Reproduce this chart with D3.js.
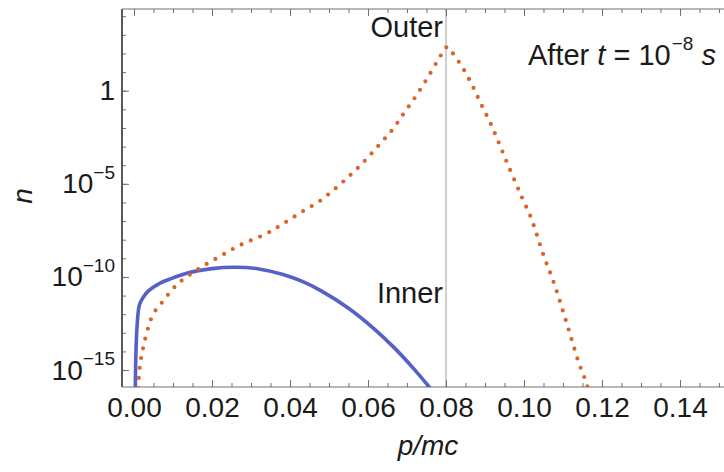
<!DOCTYPE html>
<html><head><meta charset="utf-8">
<script src="https://cdn.jsdelivr.net/npm/d3@7"></script>
<style>
body{margin:0;background:#fff;}
svg{display:block;font-family:"Liberation Sans",Arial,sans-serif;}
</style></head><body>
<svg id="c" width="724" height="472"></svg>
<script>
// Inner distribution (solid blue)
const innerP = [0.0003,0.0005,0.0008,0.0014,0.0025,0.0040,0.0067,0.0100,0.0135,0.0200,0.0260,0.0320,0.0380,0.0430,0.0480,0.0550,0.0615,0.0667,0.0717,0.0765];
const innerN = [3.2e-17,1e-14,2.5e-13,3.2e-12,8.9e-12,2e-11,4.7e-11,8.9e-11,1.6e-10,2.8e-10,3.3e-10,2.7e-10,1.4e-10,5.9e-11,1.8e-11,2.1e-12,1.7e-13,1.6e-14,1.2e-15,7.8e-17];
// Outer distribution (dotted orange)
const outerP = [0.0009,0.0015,0.0024,0.0037,0.0050,0.0065,0.0080,0.0097,0.0114,0.0135,0.0174,0.0221,0.0272,0.0341,0.0384,0.0431,0.0474,0.0517,0.0555,0.0589,0.0628,0.0662,0.0692,0.0722,0.0752,0.0777,0.0790,0.0803,0.0816,0.0842,0.0867,0.0889,0.0914,0.0936,0.0957,0.0983,0.0998,0.1017,0.1051,0.1077,0.1099,0.1120,0.1141,0.1159,0.1170];
const outerN = [3.2e-17,1.6e-15,1.8e-14,2.1e-13,1.1e-12,2.8e-12,7.1e-12,2e-11,4.6e-11,1e-10,3.5e-10,1.3e-9,5.1e-9,2.2e-8,7.6e-8,3.2e-7,1.1e-6,5.8e-6,3e-5,1.5e-4,1.2e-3,7.8e-3,0.062,0.48,4.7,36,100,224,112,18,2,0.21,0.018,1.5e-3,1.3e-4,6.9e-6,1.3e-6,1.7e-7,1.3e-9,4.6e-11,1.7e-12,6.2e-14,2.3e-15,2.3e-16,3.2e-17];
const xMajorTicks = [0,0.02,0.04,0.06,0.08,0.10,0.12,0.14];
const xMinorTicks = [0,0.005,0.01,0.015,0.02,0.025,0.03,0.035,0.04,0.045,0.05,0.055,0.06,0.065,0.07,0.075,0.08,0.085,0.09,0.095,0.1,0.105,0.11,0.115,0.12,0.125,0.13,0.135,0.14,0.145,0.15];
const yMajorExps = [0,-5,-10,-15];
const yMinorExps = [4,3,2,1,0,-1,-2,-3,-4,-5,-6,-7,-8,-9,-10,-11,-12,-13,-14,-15];
const markerP = 0.08;
const labels = {outer:"Outer", inner:"Inner", xTitle:"p/mc", yTitle:"n"};

const svg = d3.select("#c");
const L=122,R=734,T=9,B=387;
const x = d3.scaleLinear().domain([-0.00308,0.15385]).range([L,R]);
const y = d3.scaleLog().domain([Math.pow(10,-15.91), Math.pow(10,4.388)]).range([B,T]);
const axisColor = "#707070";

svg.append("defs").append("clipPath").attr("id","clip")
  .append("rect").attr("x",L).attr("y",T).attr("width",R-L).attr("height",B-T);

// vertical marker line
svg.append("line").attr("x1",x(markerP)).attr("x2",x(markerP)).attr("y1",T).attr("y2",B)
  .attr("stroke","#b4b4b4").attr("stroke-width",1.3);

function styleAxis(g){ g.select(".domain").remove(); g.selectAll(".tick line").attr("stroke",axisColor).attr("stroke-width",1); }

// bottom axis
svg.append("g").attr("transform",`translate(0,${B})`)
  .call(d3.axisBottom(x).tickValues(xMinorTicks).tickSize(-4).tickFormat("")).call(styleAxis);
const gb = svg.append("g").attr("transform",`translate(0,${B})`)
  .call(d3.axisBottom(x).tickValues(xMajorTicks).tickSizeInner(-7).tickSizeOuter(0).tickPadding(10).tickFormat(d3.format(".2f")))
  .call(styleAxis);
gb.selectAll("text").attr("font-size",28).attr("fill","#1a1a1a").attr("font-family","Liberation Sans, Arial, sans-serif");
// top axis
svg.append("g").attr("transform",`translate(0,${T})`)
  .call(d3.axisTop(x).tickValues(xMinorTicks).tickSize(-4).tickFormat("")).call(styleAxis);
svg.append("g").attr("transform",`translate(0,${T})`)
  .call(d3.axisTop(x).tickValues(xMajorTicks).tickSize(-7).tickFormat("")).call(styleAxis);
// left axis
svg.append("g").attr("transform",`translate(${L},0)`)
  .call(d3.axisLeft(y).tickValues(yMinorExps.map(e=>Math.pow(10,e))).tickSize(-4).tickFormat("")).call(styleAxis);
const gl = svg.append("g").attr("transform",`translate(${L},0)`)
  .call(d3.axisLeft(y).tickValues(yMajorExps.map(e=>Math.pow(10,e))).tickSizeInner(-7).tickSizeOuter(0).tickPadding(7).tickFormat(""))
  .call(styleAxis);
gl.selectAll(".tick text").each(function(d){
  const t = d3.select(this).attr("font-size",28).attr("fill","#1a1a1a").attr("font-family","Liberation Sans, Arial, sans-serif");
  const e = Math.round(Math.log10(d));
  if(e===0){ t.text("1"); }
  else {
    t.append("tspan").text("10");
    t.append("tspan").attr("font-size",19).attr("dy","-0.75em").text("\u2212"+Math.abs(e));
  }
});

// frame
svg.append("line").attr("x1",L).attr("x2",L).attr("y1",T).attr("y2",B).attr("stroke","#5a5a5a").attr("stroke-width",2);
svg.append("line").attr("x1",L).attr("x2",R).attr("y1",B).attr("y2",B).attr("stroke",axisColor).attr("stroke-width",1.2);
svg.append("line").attr("x1",L).attr("x2",R).attr("y1",T).attr("y2",T).attr("stroke",axisColor).attr("stroke-width",1.2);

const plot = svg.append("g").attr("clip-path","url(#clip)");
const innerData = innerP.map((p,i)=>[p,innerN[i]]);
const outerData = outerP.map((p,i)=>[p,outerN[i]]);
plot.append("path").datum(innerData)
  .attr("d", d3.line().x(d=>x(d[0])).y(d=>y(d[1])).curve(d3.curveCatmullRom.alpha(0.5)))
  .attr("fill","none").attr("stroke","#5560c8").attr("stroke-width",3.6);
plot.append("path").datum(outerData)
  .attr("d", d3.line().x(d=>x(d[0])).y(d=>y(d[1])).curve(d3.curveCatmullRom.alpha(0.5)))
  .attr("fill","none").attr("stroke","#d8662a").attr("stroke-width",4.2)
  .attr("stroke-linecap","round").attr("stroke-dasharray","0 10");

// annotations
const txt = (xx,yy,anchor)=>svg.append("text").attr("x",xx).attr("y",yy).attr("text-anchor",anchor)
  .attr("font-size",29).attr("fill","#1a1a1a");
txt(443,37,"end").text(labels.outer);
txt(443,303,"end").text(labels.inner);
const at = txt(528,65,"start").attr("font-size",29);
at.append("tspan").text("After ");
at.append("tspan").attr("font-style","italic").text("t");
at.append("tspan").text(" = 10");
at.append("tspan").attr("font-size",19).attr("dx",1).attr("dy","-0.8em").text("\u22128");
at.append("tspan").attr("dy","0.52em").text(" ");
at.append("tspan").attr("font-style","italic").text("s");

svg.append("text").attr("x",428).attr("y",455).attr("text-anchor","middle")
  .attr("font-size",28).attr("font-style","italic").attr("fill","#1a1a1a").text(labels.xTitle);
svg.append("text").attr("transform","translate(32,196) rotate(-90)").attr("text-anchor","middle")
  .attr("font-size",28).attr("font-style","italic").attr("fill","#1a1a1a").text(labels.yTitle);
</script>
</body></html>
